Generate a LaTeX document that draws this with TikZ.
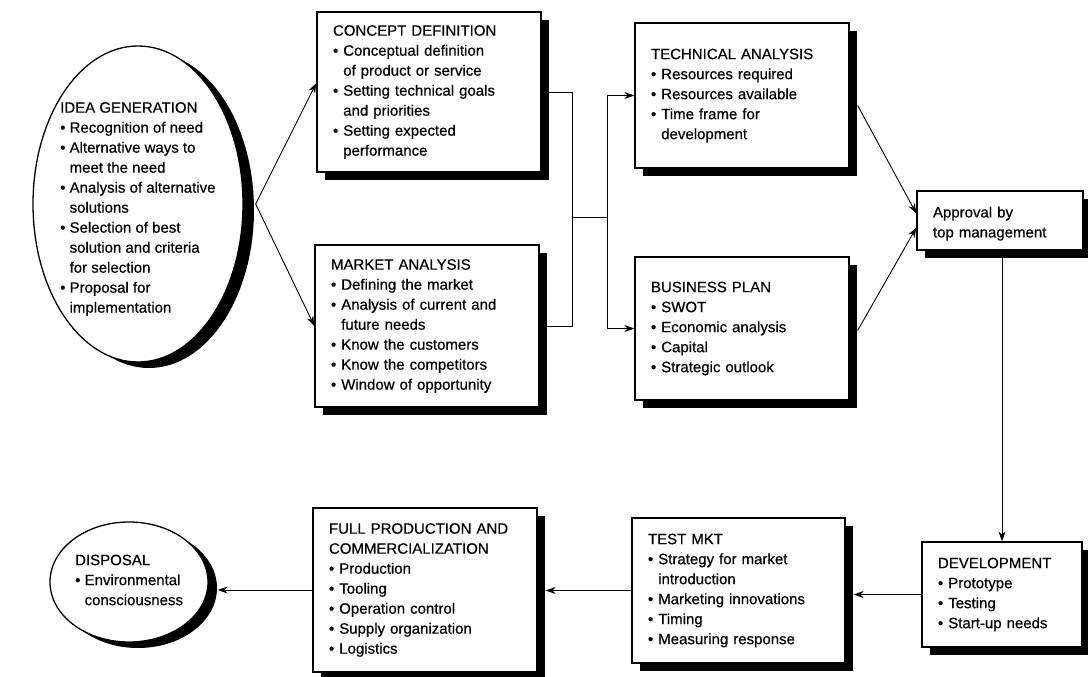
\documentclass[tikz,border=0pt]{standalone}
\usepackage{fontspec}
\setmainfont{Liberation Sans}[FakeBold=0.5]
\usetikzlibrary{shapes.geometric,shadows,arrows.meta,calc}
\newcommand{\itm}{\textbullet\ }
\newcommand{\cnt}{\phantom{\textbullet\ }}
\begin{document}
\begin{tikzpicture}[x=1pt,y=-1pt,
  txtfont/.style={font=\fontsize{15}{20}\selectfont},
  box/.style={draw, line width=1.3pt, fill=white, rectangle, inner xsep=16pt, inner ysep=2pt,
    align=left, txtfont,
    drop shadow={shadow xshift=8pt, shadow yshift=-8pt, fill=black, opacity=1}},
  ellbig/.style={draw, ellipse, line width=1.3pt, fill=white, inner sep=0pt,
    drop shadow={shadow xshift=11pt, shadow yshift=-6pt, fill=black, opacity=1}},
  ellsmall/.style={draw, ellipse, line width=1.3pt, fill=white, inner sep=0pt,
    drop shadow={shadow xshift=9pt, shadow yshift=-6pt, fill=black, opacity=1}},
  txt/.style={align=left, inner sep=0pt, txtfont},
  arr/.style={-{Stealth[length=10pt,width=7pt]}, line width=0.9pt},
  con/.style={line width=0.9pt}]
\clip (0,0) rectangle (1088,677);
\fill[white] (0,0) rectangle (1088,677);

% ---- nodes ----
\node[ellbig, minimum width=210pt, minimum height=316pt] (idea) at (138,204) {};
\node[txt, anchor=west] (ideatxt) at (60,209) {IDEA GENERATION\\
\itm Recognition of need\\
\itm Alternative ways to\\
\cnt meet the need\\
\itm Analysis of alternative\\
\cnt solutions\\
\itm Selection of best\\
\cnt solution and criteria\\
\cnt for selection\\
\itm Proposal for\\
\cnt implementation};

\node[box, text width=192pt, minimum height=160pt] (concept) at (429,92) {CONCEPT DEFINITION\\
\itm Conceptual definition\\
\cnt of product or service\\
\itm Setting technical goals\\
\cnt and priorities\\
\itm Setting expected\\
\cnt performance};

\node[box, text width=192pt, minimum height=162pt] (market) at (427,326) {MARKET ANALYSIS\\
\itm Defining the market\\
\itm Analysis of current and\\
\cnt future needs\\
\itm Know the customers\\
\itm Know the competitors\\
\itm Window of opportunity};

\node[box, text width=182pt, minimum height=145pt] (tech) at (742,95.5) {TECHNICAL ANALYSIS\\
\itm Resources required\\
\itm Resources available\\
\itm Time frame for\\
\cnt development};

\node[box, text width=182pt, minimum height=143pt] (biz) at (742,328.5) {BUSINESS PLAN\\
\itm SWOT\\
\itm Economic analysis\\
\itm Capital\\
\itm Strategic outlook};

\node[box, text width=134pt, minimum height=59pt, text depth=17pt] (approval) at (1000,220.5) {Approval by\\
top management};

\node[box, text width=128pt, minimum height=105pt] (dev) at (1002,594.5) {DEVELOPMENT\\
\itm Prototype\\
\itm Testing\\
\itm Start-up needs};

\node[box, text width=181pt, minimum height=145pt] (test) at (738.5,590.5) {TEST MKT\\
\itm Strategy for market\\
\cnt introduction\\
\itm Marketing innovations\\
\itm Timing\\
\itm Measuring response};

\node[box, text width=192pt, minimum height=164pt] (full) at (425,590) {FULL PRODUCTION AND\\
COMMERCIALIZATION\\
\itm Production\\
\itm Tooling\\
\itm Operation control\\
\itm Supply organization\\
\itm Logistics};

\node[ellsmall, minimum width=158pt, minimum height=120pt] (disp) at (129,582) {};
\node[txt, anchor=west] (disptxt) at (75,580) {DISPOSAL\\
\itm Environmental\\
\cnt consciousness};

% ---- connectors ----
\coordinate (ideaout) at ($(idea.east)+(12,0)$);
\draw[arr] (ideaout) -- ($(concept.west)+(0,-9)$);
\draw[arr] (ideaout) -- (market.west);

\coordinate (ja) at ($(concept.east)+(31,0)$);
\coordinate (jb) at (market.east -| ja);
\coordinate (jm) at (572,217);
\coordinate (js) at (607,217);
\draw[con] (concept.east) -- (ja) -- (jb) -- (market.east);
\draw[con] (jm) -- (js);
\draw[arr] (js) |- (tech.west);
\draw[arr] (js) |- (biz.west);

\draw[arr] ($(tech.east)+(8,10)$) -- ($(approval.west)+(0,-7)$);
\draw[arr] ($(biz.east)+(8,2)$) -- ($(approval.west)+(0,7)$);

\draw[arr] (approval.south -| dev.north) -- (dev.north);

\coordinate (tsh) at ($(test.east)+(8,0)$);
\draw[arr] (dev.west) -- (dev.west -| tsh);
\coordinate (fsh) at ($(full.east)+(8,0)$);
\draw[arr] (test.west) -- (test.west -| fsh);
\coordinate (dsh) at ($(disp.east)+(9,0)$);
\draw[arr] (full.west) -- (full.west -| dsh);
\end{tikzpicture}
\end{document}
